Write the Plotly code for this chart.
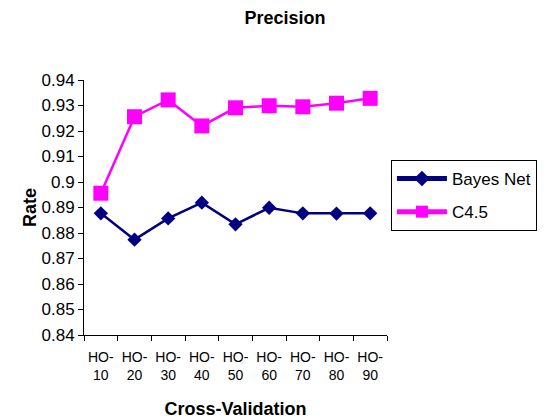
import plotly.graph_objects as go

categories = ["HO-<br>10", "HO-<br>20", "HO-<br>30", "HO-<br>40", "HO-<br>50",
              "HO-<br>60", "HO-<br>70", "HO-<br>80", "HO-<br>90"]
bayes_net = [0.8877, 0.8774, 0.8857, 0.8919, 0.8834, 0.8899, 0.8877, 0.8876, 0.8877]
c45 = [0.8956, 0.9256, 0.9322, 0.9220, 0.9291, 0.9299, 0.9295, 0.9309, 0.9328]
y_ticks = [0.84, 0.85, 0.86, 0.87, 0.88, 0.89, 0.90, 0.91, 0.92, 0.93, 0.94]
y_ticktext = ["0.84", "0.85", "0.86", "0.87", "0.88", "0.89", "0.9", "0.91", "0.92", "0.93", "0.94"]

font = "Liberation Sans, Arial, sans-serif"

fig = go.Figure()
fig.add_trace(go.Scatter(
    x=categories, y=bayes_net, name="Bayes Net", mode="lines+markers",
    legendgroup="a",
    line=dict(color="#000080", width=2.5),
    marker=dict(symbol="diamond", size=11, color="#000080"),
))
fig.add_trace(go.Scatter(
    x=categories, y=c45, name="C4.5", mode="lines+markers",
    legendgroup="b",
    line=dict(color="#FF00FF", width=2.5),
    marker=dict(symbol="square", size=15, color="#FF00FF"),
))

fig.update_layout(
    width=549, height=420,
    margin=dict(l=84, r=157, t=80, b=85),
    paper_bgcolor="white", plot_bgcolor="white",
    font=dict(family=font, size=14, color="black"),
    title=dict(text="<b>Precision</b>", x=285/549, xanchor="center",
               y=1 - 18/420, yanchor="middle", font=dict(size=18)),
    showlegend=True,
    legend=dict(x=(396 - 84) / 308, xanchor="left", y=(335 - 160) / 255, yanchor="top",
                bordercolor="black", borderwidth=1, bgcolor="white",
                font=dict(size=17), itemsizing="constant", itemwidth=50,
                tracegroupgap=8),
    xaxis=dict(
        type="category", range=[-0.5, 8.5], automargin=False,
        showline=True, linecolor="black", linewidth=1,
        ticks="outside", tickson="boundaries", ticklen=5, tickcolor="black",
        showgrid=False, zeroline=False, tickangle=0,
        tickfont=dict(size=14), ticklabelstandoff=9,
        title=dict(text="<b>Cross-Validation</b>", font=dict(size=18), standoff=20),
    ),
    yaxis=dict(
        range=[0.84, 0.94], tickvals=y_ticks, ticktext=y_ticktext, automargin=False,
        showline=True, linecolor="black", linewidth=1,
        ticks="outside", ticklen=5, tickcolor="black",
        showgrid=False, zeroline=False,
        tickfont=dict(size=17),
        title=dict(text="<b>Rate</b>", font=dict(size=18), standoff=0),
    ),
)

fig.write_html("out.html")
